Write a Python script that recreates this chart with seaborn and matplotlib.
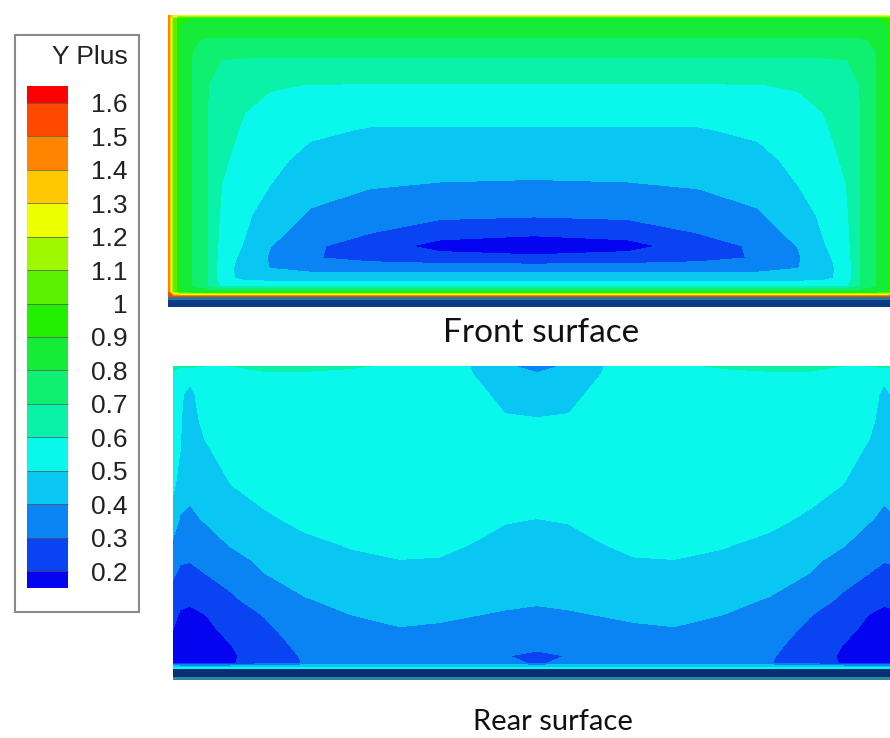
#  Y+ contour maps on the front and rear surfaces of the plate
#  values on a coarse grid (pixel positions), left half + centre column,
#  the right half is the mirror image

import numpy as np
import matplotlib.pyplot as plt
import seaborn as sns
from matplotlib.colors import ListedColormap, BoundaryNorm
from matplotlib.patches import Rectangle

sns.set_theme(style="white")
plt.rcParams['font.family'] = ['Liberation Sans', 'DejaVu Sans']

# --> legend levels and colours
levels = [0.2, 0.3, 0.4, 0.5, 0.6, 0.7, 0.8, 0.9, 1.0, 1.1, 1.2, 1.3, 1.4, 1.5, 1.6]
level_labels = ["0.2", "0.3", "0.4", "0.5", "0.6", "0.7", "0.8", "0.9",
                "1", "1.1", "1.2", "1.3", "1.4", "1.5", "1.6"]
band_colors = ["#0A44F2", "#0A84F2", "#0AC6F2", "#0AF8EC", "#0AF2A8", "#10F070",
               "#14EC38", "#22F000", "#5AF000", "#A0F800", "#EEFF00", "#FFC800",
               "#FF8400", "#FF4800"]
under_color = "#0404F0"
over_color = "#FF0000"

# --> front surface (x nodes left half, y nodes, one list of Y+ per x node)
front_x = [168, 173, 180, 193, 207, 222, 245, 270, 310, 370, 440, 534]
front_y = [15, 18, 40, 60, 85, 130, 160, 190, 215, 232, 246, 258, 268, 278, 286, 292, 297]
front_cols = [
    [1.45, 1.5, 1.5, 1.5, 1.5, 1.5, 1.5, 1.5, 1.5, 1.5, 1.5, 1.5, 1.5, 1.5, 1.5, 1.5, 1.55],
    [1.3, 1.1, 1.1, 1.1, 1.1, 1.1, 1.1, 1.1, 1.1, 1.1, 1.1, 1.1, 1.1, 1.1, 1.1, 1.1, 1.55],
    [1.25, 0.91, 0.88, 0.88, 0.88, 0.88, 0.88, 0.88, 0.88, 0.88, 0.88, 0.88, 0.88, 0.88, 0.88, 0.91, 1.55],
    [1.25, 0.895, 0.81, 0.79, 0.79, 0.79, 0.79, 0.79, 0.79, 0.79, 0.79, 0.79, 0.79, 0.79, 0.79, 0.85, 1.55],
    [1.25, 0.895, 0.79, 0.72, 0.702, 0.702, 0.702, 0.702, 0.702, 0.702, 0.702, 0.702, 0.702, 0.702, 0.705, 0.85, 1.55],
    [1.25, 0.895, 0.789, 0.698, 0.678, 0.639, 0.616, 0.595, 0.58, 0.57, 0.56, 0.55, 0.54, 0.535, 0.58, 0.85, 1.55],
    [1.25, 0.895, 0.789, 0.69, 0.625, 0.584, 0.561, 0.537, 0.518, 0.505, 0.49, 0.47, 0.46, 0.47, 0.567, 0.85, 1.55],
    [1.25, 0.895, 0.789, 0.685, 0.607, 0.558, 0.526, 0.495, 0.452, 0.425, 0.403, 0.39, 0.398, 0.456, 0.567, 0.85, 1.55],
    [1.25, 0.895, 0.789, 0.685, 0.598, 0.518, 0.471, 0.426, 0.39, 0.365, 0.318, 0.308, 0.36, 0.456, 0.567, 0.85, 1.55],
    [1.25, 0.895, 0.789, 0.685, 0.595, 0.493, 0.447, 0.398, 0.346, 0.305, 0.25, 0.27, 0.35, 0.456, 0.567, 0.85, 1.55],
    [1.25, 0.895, 0.789, 0.685, 0.595, 0.493, 0.441, 0.385, 0.32, 0.245, 0.165, 0.24, 0.35, 0.456, 0.567, 0.85, 1.55],
    [1.25, 0.895, 0.789, 0.685, 0.595, 0.493, 0.439, 0.379, 0.31, 0.222, 0.14, 0.222, 0.35, 0.456, 0.567, 0.85, 1.55],
]

# --> rear surface
rear_x = [173, 180, 190, 205, 230, 265, 305, 350, 400, 440, 475, 505, 537]
rear_y = [366, 374, 395, 420, 450, 485, 520, 545, 560, 580, 600, 615, 630, 645, 656, 663, 666, 669]
rear_cols = [
    [0.64, 0.58, 0.56, 0.56, 0.55, 0.52, 0.45, 0.38, 0.34, 0.3, 0.26, 0.22, 0.2, 0.19, 0.19, 0.2, 0.45, 0.6],
    [0.62, 0.54, 0.51, 0.505, 0.502, 0.46, 0.39, 0.34, 0.31, 0.27, 0.22, 0.19, 0.165, 0.155, 0.155, 0.17, 0.4, 0.6],
    [0.62, 0.52, 0.48, 0.47, 0.45, 0.42, 0.385, 0.33, 0.305, 0.265, 0.21, 0.185, 0.16, 0.15, 0.15, 0.17, 0.4, 0.6],
    [0.6, 0.55, 0.54, 0.52, 0.49, 0.45, 0.405, 0.36, 0.33, 0.285, 0.235, 0.198, 0.175, 0.16, 0.155, 0.17, 0.4, 0.6],
    [0.6, 0.56, 0.56, 0.55, 0.53, 0.498, 0.44, 0.403, 0.37, 0.325, 0.28, 0.25, 0.225, 0.197, 0.185, 0.19, 0.4, 0.6],
    [0.66, 0.57, 0.575, 0.57, 0.56, 0.535, 0.485, 0.44, 0.42, 0.39, 0.35, 0.305, 0.28, 0.26, 0.25, 0.25, 0.45, 0.6],
    [0.66, 0.57, 0.575, 0.575, 0.57, 0.56, 0.52, 0.48, 0.455, 0.425, 0.395, 0.37, 0.35, 0.325, 0.31, 0.305, 0.45, 0.6],
    [0.62, 0.56, 0.57, 0.57, 0.57, 0.57, 0.54, 0.505, 0.485, 0.455, 0.42, 0.399, 0.375, 0.355, 0.345, 0.34, 0.45, 0.6],
    [0.57, 0.56, 0.57, 0.57, 0.57, 0.57, 0.56, 0.525, 0.499, 0.47, 0.44, 0.418, 0.395, 0.37, 0.36, 0.355, 0.45, 0.6],
    [0.56, 0.56, 0.57, 0.57, 0.57, 0.57, 0.56, 0.52, 0.495, 0.47, 0.445, 0.41, 0.39, 0.365, 0.355, 0.35, 0.45, 0.6],
    [0.49, 0.495, 0.53, 0.55, 0.56, 0.56, 0.53, 0.495, 0.475, 0.445, 0.42, 0.401, 0.38, 0.36, 0.35, 0.35, 0.45, 0.6],
    [0.42, 0.44, 0.47, 0.51, 0.545, 0.55, 0.505, 0.475, 0.457, 0.433, 0.41, 0.395, 0.37, 0.34, 0.305, 0.32, 0.45, 0.6],
    [0.35, 0.41, 0.45, 0.505, 0.545, 0.55, 0.498, 0.469, 0.452, 0.429, 0.406, 0.39, 0.37, 0.335, 0.27, 0.29, 0.45, 0.6],
]

titles = ["Front surface", "Rear surface"]


def mirror(xs, cols):
    # both surfaces are symmetric about the centre column (last x node)
    half = np.array(cols).T
    full = np.hstack([half, half[:, -2::-1]])
    c = xs[-1]
    full_x = list(xs) + [2 * c - x for x in xs[-2::-1]]
    return np.array(full_x), full


cmap = ListedColormap(sns.color_palette(band_colors, n_colors=len(band_colors)))
cmap.set_under(under_color)
cmap.set_over(over_color)
norm = BoundaryNorm(levels, cmap.N)

fig = plt.figure(figsize=(8.9, 7.38), dpi=100)
ax = fig.add_axes([0, 0, 1, 1])
ax.set_xlim(0, 890)
ax.set_ylim(738, 0)
ax.axis("off")

fx, fz = mirror(front_x, front_cols)
rx, rz = mirror(rear_x, rear_cols)

cf = ax.contourf(fx, front_y, fz, levels=levels, cmap=cmap, norm=norm, extend="both")
ax.contourf(rx, rear_y, rz, levels=levels, cmap=cmap, norm=norm, extend="both")

# side faces of the plate (dark strips under each surface)
ax.fill_between([fx[0], fx[-1]], front_y[-1], front_y[-1] + 10, color="#0C3A86", lw=0)
ax.fill_between([fx[0], fx[-1]], front_y[-1], front_y[-1] + 3, color="#1C7A9A", lw=0)
ax.fill_between([rx[0], rx[-1]], rear_y[-1], rear_y[-1] + 11, color="#0A2E74", lw=0)
ax.fill_between([rx[0], rx[-1]], rear_y[-1] + 8, rear_y[-1] + 11, color="#2A8A9A", lw=0)

ax.text(541, 333, titles[0], ha="center", va="center", fontsize=24, family=["Lato", "DejaVu Sans"], color="#111111")
ax.text(553, 722, titles[1], ha="center", va="center", fontsize=21, family=["Lato", "DejaVu Sans"], color="#111111")

# legend box with the colour bar
fig.patches.append(Rectangle((15 / 890, 1 - 612 / 738), 124 / 890, 577 / 738,
                             transform=fig.transFigure, facecolor="white",
                             edgecolor="#8a8a8a", lw=1.5, zorder=-1))
cax = fig.add_axes([27 / 890, 1 - 588 / 738, 41 / 890, 502 / 738])
cbar = fig.colorbar(cf, cax=cax, ticks=levels, extendrect=True,
                    extendfrac=0.5 / 14, drawedges=True)
cbar.outline.set_visible(False)
cbar.dividers.set_color("#555555")
cbar.dividers.set_linewidth(0.5)
cax.set_yticklabels(level_labels)
cax.tick_params(length=0, pad=43, labelsize=19, colors="#222222")
for lab in cax.get_yticklabels():
    lab.set_horizontalalignment("right")
fig.text(128 / 890, 1 - 57 / 738, "Y Plus", ha="right", va="center", fontsize=19, color="#222222")

plt.savefig("out.png", dpi=100)
